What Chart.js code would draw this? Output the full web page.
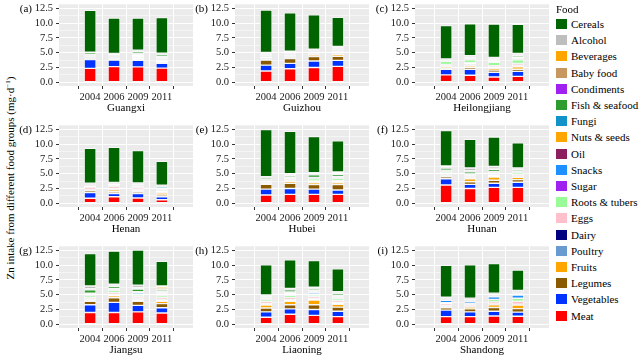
<!DOCTYPE html>
<html><head><meta charset="utf-8">
<script src="https://cdn.jsdelivr.net/npm/chart.js@4.4.1/dist/chart.umd.min.js"></script>
<style>
html,body{margin:0;padding:0;}
body{width:639px;height:356px;background:#fff;position:relative;overflow:hidden;font-family:"Liberation Serif","Times New Roman",serif;color:#000;}
.panel{position:absolute;}
.plab{position:absolute;font-size:11px;line-height:12px;text-align:right;width:20px;}
.ytitle{position:absolute;left:10px;top:178px;transform:translate(-50%,-50%) rotate(-90deg);white-space:nowrap;font-size:11px;}
.ytitle sup{font-size:7px;vertical-align:4px;line-height:0;}
.legend{position:absolute;left:556px;top:3px;font-size:11px;}
.lt{position:absolute;left:0;top:0;white-space:nowrap;}
.li{position:absolute;left:0;white-space:nowrap;height:12px;line-height:12px;}
.li i{position:absolute;left:0;top:1px;width:11px;height:10px;}
.li span{position:absolute;left:15px;top:0;}
</style></head><body>
<div class="ytitle">Zn intake from different food groups (mg·d<sup>−1</sup>)</div>
<script>
// ---------- data ----------
const years = ['2004','2006','2009','2011'];
const provinces = ['Guangxi','Guizhou','Heilongjiang','Henan','Hubei','Hunan','Jiangsu','Liaoning','Shandong'];
const panelLetters = ['(a)','(b)','(c)','(d)','(e)','(f)','(g)','(h)','(i)'];
const yTickValues = [0,1.25,2.5,3.75,5,6.25,7.5,8.75,10,11.25,12.5];

// values: 9 provinces x 4 years (province order above, years 2004/2006/2009/2011)
const meat       = [2.35,2.65,2.6,2.4, 1.9,2.3,2.5,2.7, 1.25,1.2,0.9,1.0, 0.85,1.1,0.9,0.6, 1.4,1.5,1.5,1.5, 3.1,2.5,2.7,2.7, 2.0,2.0,2.1,1.9, 1.2,1.7,1.5,1.3, 1.3,1.3,1.4,1.35];
const vegetables = [1.5,1.1,1.1,0.8, 1.0,0.9,1.1,1.0, 0.95,1.0,0.8,0.85, 0.95,0.55,0.75,0.5, 1.0,1.0,0.9,0.75, 1.05,0.7,0.7,0.85, 1.3,1.7,1.1,0.9, 0.9,0.9,1.0,0.9, 1.1,0.8,0.8,0.7];
const legumes    = [0.12,0.15,0.2,0.2, 0.85,0.8,0.75,0.7, 0.15,0.35,0.35,0.35, 0.3,0.3,0.3,0.3, 0.8,0.9,0.75,0.9, 0.35,0.45,0.5,0.45, 0.6,0.8,0.7,0.7, 0.65,0.7,0.8,0.7, 0.4,0.5,0.65,0.6];
const fruits     = [0.08,0.1,0.2,0.25, 0.15,0.15,0.25,0.35, 0.25,0.3,0.3,0.4, 0.15,0.35,0.25,0.35, 0.2,0.3,0.3,0.3, 0.2,0.5,0.55,0.4, 0.15,0.3,0.25,0.4, 0.5,0.6,0.8,0.5, 0.2,0.3,0.45,0.6];
const poultry    = [0.15,0.12,0.15,0.15, 0.1,0.1,0.1,0.1, 0.1,0.1,0.1,0.12, 0.05,0.05,0.05,0.05, 0.1,0.1,0.1,0.12, 0.15,0.15,0.15,0.15, 0.2,0.2,0.2,0.25, 0.15,0.2,0.2,0.2, 0.1,0.1,0.1,0.1];
const dairy      = [0.03,0.03,0.05,0.05, 0.02,0.02,0.02,0.03, 0.1,0.1,0.12,0.12, 0.05,0.1,0.08,0.1, 0.03,0.03,0.03,0.05, 0.03,0.03,0.03,0.05, 0.05,0.05,0.05,0.1, 0.08,0.1,0.1,0.1, 0.05,0.05,0.05,0.05];
const eggs       = [0.12,0.1,0.15,0.12, 0.1,0.1,0.1,0.1, 0.2,0.25,0.25,0.35, 0.4,0.4,0.35,0.25, 0.15,0.2,0.2,0.2, 0.2,0.2,0.25,0.25, 0.25,0.3,0.3,0.3, 0.35,0.35,0.35,0.3, 0.3,0.3,0.35,0.5];
const roots      = [0.15,0.12,0.15,0.12, 0.2,0.2,0.15,0.15, 0.55,0.5,0.55,0.6, 0.2,0.2,0.2,0.15, 0.15,0.2,0.35,0.35, 0.3,0.2,0.25,0.3, 0.3,0.35,0.3,0.3, 0.3,0.35,0.3,0.3, 0.2,0.15,0.4,0.5];
const sugar      = [0.01,0.01,0.02,0.02, 0.01,0.01,0.01,0.01, 0.01,0.01,0.01,0.01, 0.01,0.01,0.01,0.01, 0.01,0.01,0.01,0.01, 0.01,0.01,0.01,0.01, 0.02,0.02,0.02,0.03, 0.01,0.02,0.02,0.02, 0.01,0.01,0.01,0.01];
const snacks     = [0.03,0.03,0.05,0.05, 0.02,0.02,0.03,0.03, 0.03,0.05,0.05,0.1, 0.02,0.03,0.05,0.1, 0.03,0.05,0.05,0.15, 0.03,0.03,0.05,0.1, 0.15,0.1,0.25,0.25, 0.1,0.2,0.25,0.2, 0.4,0.35,0.45,0.55];
const oil        = [0.01,0.01,0.01,0.01, 0.01,0.01,0.01,0.01, 0.01,0.01,0.01,0.01, 0.01,0.01,0.01,0.01, 0.01,0.01,0.01,0.01, 0.01,0.01,0.01,0.01, 0.01,0.01,0.01,0.02, 0.01,0.01,0.01,0.01, 0.01,0.01,0.01,0.01];
const nuts       = [0.08,0.1,0.15,0.12, 0.1,0.1,0.1,0.15, 0.1,0.1,0.15,0.15, 0.15,0.15,0.12,0.1, 0.1,0.1,0.12,0.12, 0.12,0.15,0.15,0.12, 0.15,0.15,0.15,0.2, 0.15,0.2,0.2,0.2, 0.1,0.1,0.1,0.1];
const fungi      = [0.05,0.05,0.08,0.1, 0.05,0.05,0.05,0.05, 0.05,0.2,0.1,0.2, 0.03,0.03,0.15,0.25, 0.05,0.05,0.05,0.1, 0.05,0.05,0.05,0.1, 0.1,0.1,0.1,0.15, 0.15,0.15,0.15,0.2, 0.05,0.05,0.05,0.05];
const fish       = [0.3,0.2,0.35,0.3, 0.1,0.1,0.1,0.15, 0.1,0.15,0.2,0.25, 0.05,0.05,0.05,0.05, 0.3,0.3,0.45,0.35, 0.35,0.35,0.35,0.25, 0.55,0.35,0.45,0.3, 0.2,0.35,0.3,0.3, 0.05,0.05,0.05,0.1];
const condiments = [0.03,0.03,0.05,0.05, 0.15,0.15,0.1,0.1, 0.03,0.05,0.05,0.1, 0.05,0.05,0.05,0.05, 0.05,0.05,0.05,0.05, 0.1,0.1,0.1,0.05, 0.1,0.1,0.1,0.1, 0.05,0.05,0.05,0.05, 0.05,0.05,0.05,0.05];
const babyFood   = [0,0,0.02,0.05, 0.02,0.02,0.05,0.1, 0,0.02,0.02,0.05, 0.02,0.02,0.02,0.05, 0.01,0.02,0.02,0.05, 0.02,0.05,0.05,0.05, 0.05,0.05,0.05,0.1, 0.02,0.05,0.05,0.05, 0.02,0.02,0.05,0.05];
const beverages  = [0.02,0.02,0.05,0.08, 0.05,0.05,0.1,0.2, 0.02,0.03,0.04,0.05, 0.02,0.02,0.02,0.05, 0.03,0.03,0.1,0.08, 0.03,0.05,0.05,0.05, 0.05,0.05,0.1,0.3, 0.03,0.05,0.05,0.05, 0.03,0.03,0.05,0.1];
const alcohol    = [0.05,0.05,0.05,0.05, 0.2,0.2,0.1,0.15, 0.05,0.08,0.2,0.15, 0.1,0.1,0.08,0.08, 0.1,0.15,0.2,0.2, 0.2,0.45,0.3,0.1, 0.45,0.15,0.4,0.2, 0.1,0.1,0.15,0.15, 0.2,0.25,0.25,0.3];
const cereals    = [7.1,6.0,5.45,6.05, 7.2,6.5,5.8,4.9, 5.65,5.4,5.65,4.95, 5.9,5.95,5.5,4.05, 7.95,7.2,6.1,5.3, 6.0,4.85,4.95,4.25, 5.5,5.6,5.95,4.15, 5.1,4.85,4.5,3.85, 5.4,5.65,5.0,3.45];

// stacking order, bottom to top
const foodNames = ['Meat','Vegetables','Legumes','Fruits','Poultry','Dairy','Eggs','Roots & tubers','Sugar','Snacks','Oil','Nuts & seeds','Fungi','Fish & seafood','Condiments','Baby food','Beverages','Alcohol','Cereals'];
const foodSeries = [meat,vegetables,legumes,fruits,poultry,dairy,eggs,roots,sugar,snacks,oil,nuts,fungi,fish,condiments,babyFood,beverages,alcohol,cereals];
const foodColors = ['#FF0000','#0033FF','#8B5A00','#FFA500','#6A9BD0','#000080','#FFC0CB','#98FB98','#A020F0','#1E90FF','#8E1F5F','#FFA500','#1193C9','#2E9B2E','#A020F0','#C8965F','#FFA500','#BEBEBE','#006400'];

// ---------- layout ----------
const PLOT_W = 134, PLOT_H = 82;
const colLeft = [59, 235, 415];
const rowTop = [4, 125, 246];
const FONT = {family:'"Liberation Serif","Times New Roman",serif', size:10.5};

const bgPlugin = {
  id:'panelBg',
  beforeDraw(chart){
    const {ctx, chartArea:a} = chart;
    ctx.save(); ctx.fillStyle = '#EBEBEB';
    ctx.fillRect(a.left, a.top, a.right-a.left, a.bottom-a.top);
    ctx.restore();
  }
};

function config(p){
  const datasets = foodNames.map((name, i) => ({
    label: name,
    data: years.map((y, j) => ({x: j+1, y: foodSeries[i][p*4+j]})),
    backgroundColor: foodColors[i],
    borderColor: '#FFFFFF',
    borderWidth: 0.7,
    borderSkipped: false,
    barPercentage: 0.5,
    categoryPercentage: 1
  }));
  return {
    type:'bar',
    data:{datasets},
    plugins:[bgPlugin],
    options:{
      responsive:false, maintainAspectRatio:false, animation:false, devicePixelRatio:1,
      layout:{padding:{top:0,right:2,bottom:0,left:0}},
      plugins:{legend:{display:false}, tooltip:{enabled:false}},
      scales:{
        x:{
          type:'linear', min:0.4, max:4.6, stacked:true,
          afterBuildTicks: s => { s.ticks = years.map((y,i)=>({value:i+1})); },
          afterFit: s => { s.height = 29; },
          ticks:{callback: v => years[Math.round(v)-1], font:FONT, color:'#1a1a1a', padding:2, autoSkip:false, maxRotation:0},
          grid:{color:'#FFFFFF', lineWidth:1, tickLength:3, tickColor:'#333333'},
          border:{display:false},
          title:{display:true, text:provinces[p], font:{family:FONT.family, size:11}, color:'#000', padding:0}
        },
        y:{
          min:-0.63, max:13.2, stacked:true,
          afterBuildTicks: s => { s.ticks = yTickValues.map(v=>({value:v})); },
          afterFit: s => { s.width = 40; },
          ticks:{callback: v => (Math.abs(v/2.5 - Math.round(v/2.5)) < 1e-6 ? v.toFixed(1) : ''), font:FONT, color:'#1a1a1a', padding:3, autoSkip:false},
          grid:{
            color:'#FFFFFF',
            lineWidth: c => (c.tick && Math.abs(c.tick.value/2.5 - Math.round(c.tick.value/2.5)) < 1e-6) ? 1 : 0.5,
            tickColor: c => (c.tick && Math.abs(c.tick.value/2.5 - Math.round(c.tick.value/2.5)) < 1e-6) ? '#333333' : 'rgba(0,0,0,0)',
            tickLength:3
          },
          border:{display:false}
        }
      }
    }
  };
}

function build(p, w, h){
  const wrap = document.createElement('div');
  wrap.className = 'panel';
  const cv = document.createElement('canvas');
  cv.width = w; cv.height = h;
  cv.style.width = w+'px'; cv.style.height = h+'px';
  wrap.appendChild(cv);
  document.body.appendChild(wrap);
  const chart = new Chart(cv, config(p));
  return {wrap, chart};
}

for (let p = 0; p < 9; p++){
  const col = p % 3, row = Math.floor(p / 3);
  const W0 = 180, H0 = 125;
  let b = build(p, W0, H0);
  let a = b.chart.chartArea;
  const W1 = Math.round(W0 + PLOT_W - (a.right - a.left));
  const H1 = Math.round(H0 + PLOT_H - (a.bottom - a.top));
  b.chart.destroy(); b.wrap.remove();
  b = build(p, W1, H1);
  a = b.chart.chartArea;
  b.wrap.style.left = (colLeft[col] - a.left) + 'px';
  b.wrap.style.top = (rowTop[row] - a.top) + 'px';
  // panel letter
  const lab = document.createElement('div');
  lab.className = 'plab';
  lab.textContent = panelLetters[p];
  lab.style.left = (colLeft[col] - 27 - 20) + 'px';
  lab.style.top = (rowTop[row] + 4.3 - 6) + 'px';
  document.body.appendChild(lab);
}

// legend (reverse of stacking order)
const leg = document.createElement('div');
leg.className = 'legend';
let html = '<div class="lt">Food</div>';
for (let k = 0; k < foodNames.length; k++){
  const i = foodNames.length - 1 - k;
  const top = 15 + k * 16.2;
  html += '<div class="li" style="top:'+top+'px"><i style="background:'+foodColors[i]+'"></i><span>'+foodNames[i].replace('&','&amp;')+'</span></div>';
}
leg.innerHTML = html;
document.body.appendChild(leg);
</script>
</body></html>
